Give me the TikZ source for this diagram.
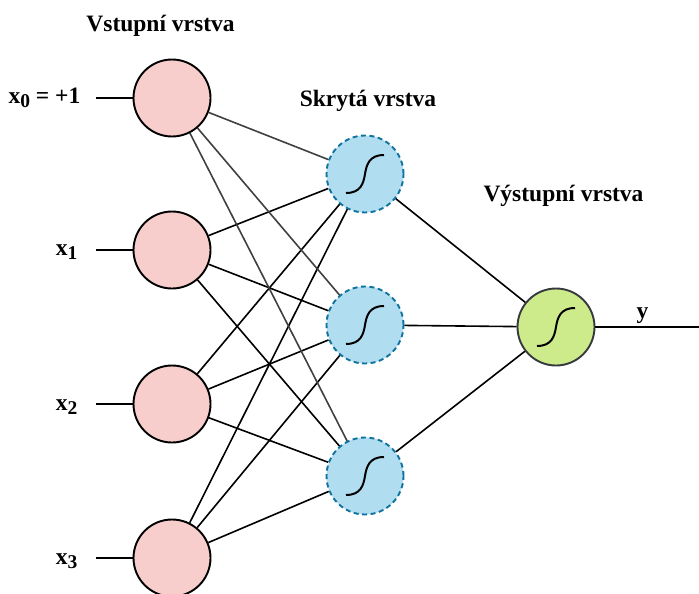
\documentclass[tikz,border=0pt]{standalone}
\usepackage{fontspec}
\setmainfont{Liberation Serif}
\definecolor{inpink}{HTML}{F8CECC}
\definecolor{hidfill}{HTML}{B1DDF0}
\definecolor{hidblue}{HTML}{10739E}
\definecolor{outgreen}{HTML}{CDEB8B}
\definecolor{outgray}{HTML}{36393D}
% subscript as set in the labels
\newcommand\lsub[1]{\raisebox{-4.5pt}{\fontsize{19.5}{20}\selectfont #1}}
\begin{document}
\begin{tikzpicture}[x=1pt,y=-1pt,
  neuron/.style={circle, minimum size=77pt, inner sep=0pt, line width=1.9pt},
  innode/.style={neuron, draw=black, fill=inpink},
  hidnode/.style={neuron, draw=hidblue, fill=hidfill, dash pattern=on 5pt off 3.5pt},
  outnode/.style={neuron, draw=outgray, fill=outgreen},
  title/.style={font=\bfseries\fontsize{23.5}{26}\selectfont, anchor=base, inner sep=0pt},
  xlabel/.style={font=\bfseries\fontsize{23.5}{26}\selectfont, anchor=base east, inner sep=0pt},
  conn/.style={line width=1.6pt, black},
  biasconn/.style={line width=1.6pt, black!75},
  sig/.style={line width=2pt, black}]
\useasboundingbox (0,0) rectangle (699,594);

% layers
\node[innode] (i0) at (172,98) {};
\node[innode] (i1) at (172,250) {};
\node[innode] (i2) at (172,404) {};
\node[innode] (i3) at (172,558) {};
\node[hidnode] (h1) at (365,174) {};
\node[hidnode] (h2) at (365,325) {};
\node[hidnode] (h3) at (365,476) {};
\node[outnode] (o) at (556,327) {};

% sigmoid glyphs
\foreach \n in {h1,h2,h3,o}{
  \draw[sig, shift={(\n.center)}] (-19,19) .. controls (-4,19) and (-1.5,9) .. (0,0)
        .. controls (1.5,-9) and (4,-19) .. (19,-19);
}

% input stubs and labels
\coordinate (s0) at (96,98);
\coordinate (s1) at (96,250);
\coordinate (s2) at (96,404);
\coordinate (s3) at (96,558);
\draw[conn] (s0) -- (i0);
\draw[conn] (s1) -- (i1);
\draw[conn] (s2) -- (i2);
\draw[conn] (s3) -- (i3);
\node[xlabel] (l0) at (80.5,103) {x\lsub{0} = +1};
\node[xlabel] (l1) at (77.5,255) {x\lsub{1}};
\node[xlabel] (l2) at (77.5,410) {x\lsub{2}};
\node[xlabel] (l3) at (77.5,564) {x\lsub{3}};

% input to hidden connections
\foreach \h in {h1,h2,h3}{
  \draw[biasconn] (i0) -- (\h);
  \draw[conn] (i1) -- (\h);
  \draw[conn] (i2) -- (\h);
  \draw[conn] (i3) -- (\h);
}

% hidden to output connections
\foreach \h in {h1,h2,h3}{
  \draw[conn] (\h) -- (o);
}

% output line
\coordinate (yend) at (699,327);
\draw[conn] (o) -- (yend);
\node[title] (ylab) at (642.5,318) {y};

% layer titles
\node[title] (t1) at (160.5,32) {Vstupní vrstva};
\node[title] (t2) at (368,106.5) {Skrytá vrstva};
\node[title] (t3) at (563.5,201.5) {Výstupní vrstva};
\end{tikzpicture}
\end{document}
